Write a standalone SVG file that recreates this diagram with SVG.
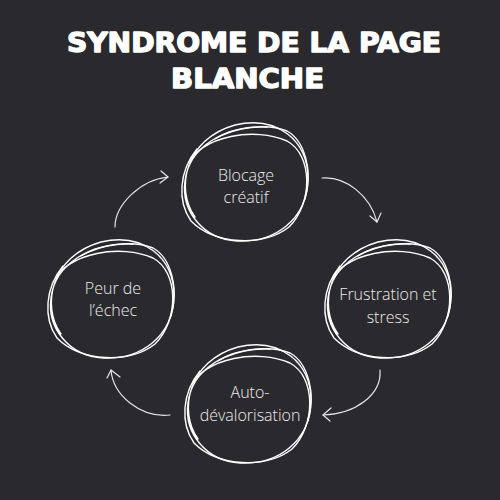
<svg xmlns="http://www.w3.org/2000/svg" xmlns:xlink="http://www.w3.org/1999/xlink" width="500" height="500" viewBox="0 0 500 500">
<style>
.title{font-family:"DejaVu Sans",sans-serif;font-weight:900;fill:#ffffff;stroke:#ffffff;stroke-width:1.4;stroke-linejoin:round;font-size:27px}
.lbl{font-family:"Open Sans","Noto Sans",sans-serif;font-weight:300;fill:#ececec;font-size:16px;text-anchor:middle}
.sc{fill:none;stroke:#ffffff;stroke-width:1.4;stroke-linecap:round}
.arr{fill:none;stroke:#e6e6e6;stroke-width:1.2;stroke-linecap:round;stroke-linejoin:round}
</style>
<defs>
<g id="scribble">
<path class="sc" d="M -50 36 C -70 8 -60 -42 -10 -56 C 32 -66 64 -40 63 -2 C 62 40 28 62 -8 60 C -42 58 -64 30 -60 0 C -56 -34 -20 -56 22 -54"/>
<path class="sc" d="M -58 -16 C -42 -46 10 -54 42 -40 C 68 -26 68 22 44 46 C 18 66 -30 64 -54 40 C -68 20 -66 -10 -48 -32"/>
<path class="sc" d="M -30 -42 C -10 -54 22 -58 42 -50 C 60 -40 68 -10 60 18" stroke-width="1"/>
</g>
</defs>
<rect width="500" height="500" fill="#2a292e"/>
<text class="title" x="67" y="52" textLength="374" lengthAdjust="spacingAndGlyphs">SYNDROME DE LA PAGE</text>
<text class="title" x="171" y="88" textLength="153" lengthAdjust="spacingAndGlyphs">BLANCHE</text>
<g id="connectors">
<path class="arr" d="M 115 227 C 115 205 140 180 168 177"/>
<path class="arr" d="M 161 171 L 168 177 L 160 183"/>
<path class="arr" d="M 322 178 C 345 176 370 195 377 222"/>
<path class="arr" d="M 370 216 L 377 222 L 381 213"/>
<path class="arr" d="M 380 370 C 382 395 355 414 323 415"/>
<path class="arr" d="M 331 408 L 323 415 L 330 421"/>
<path class="arr" d="M 170 415 C 140 418 113 395 111 370"/>
<path class="arr" d="M 107 378 L 111 370 L 120 377"/>
</g>
<g id="node-blocage">
<use xlink:href="#scribble" transform="translate(245,181)"/>
<text class="lbl" x="246" y="181">Blocage</text>
<text class="lbl" x="246" y="203">créatif</text>
</g>
<g id="node-frustration">
<use xlink:href="#scribble" transform="translate(388,298)"/>
<text class="lbl" x="388" y="300">Frustration et</text>
<text class="lbl" x="388" y="323">stress</text>
</g>
<g id="node-auto">
<use xlink:href="#scribble" transform="translate(248,403)"/>
<text class="lbl" x="250" y="398">Auto-</text>
<text class="lbl" x="250" y="421">dévalorisation</text>
</g>
<g id="node-peur">
<use xlink:href="#scribble" transform="translate(111,298)"/>
<text class="lbl" x="113" y="294">Peur de</text>
<text class="lbl" x="113" y="316">l’échec</text>
</g>
</svg>
